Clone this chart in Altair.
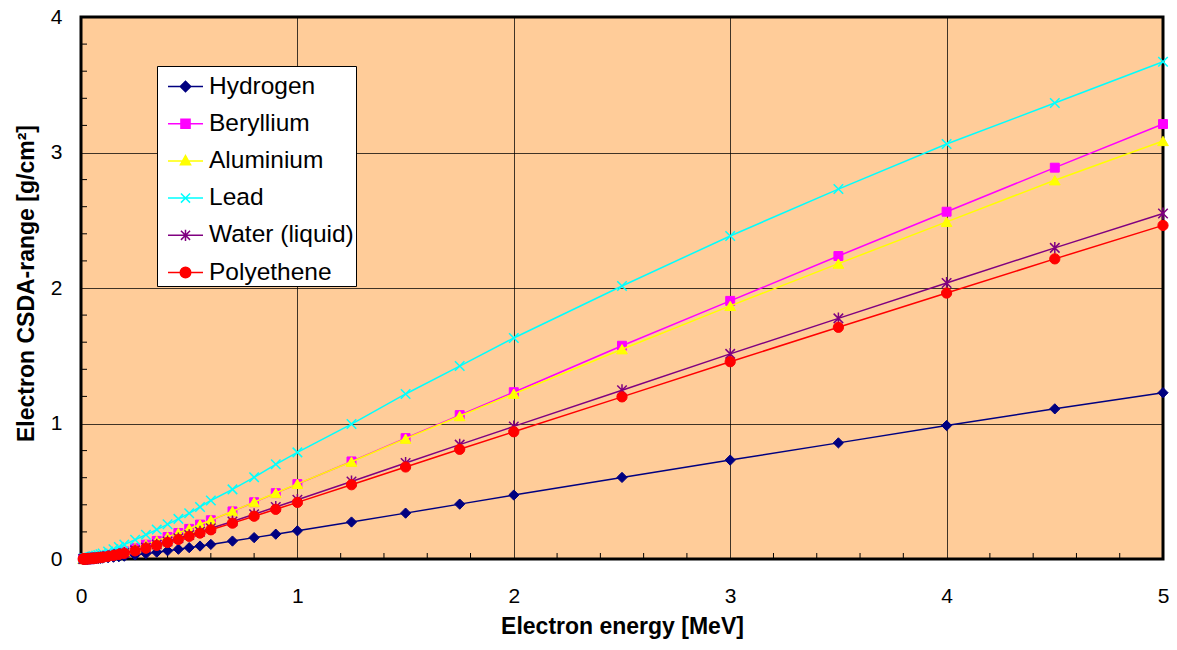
import altair as alt
import pandas as pd

# ---------------- data ----------------
energy = [0.01, 0.0125, 0.015, 0.0175, 0.02, 0.025, 0.03, 0.035, 0.04, 0.045, 0.05,
          0.055, 0.06, 0.07, 0.08, 0.09, 0.1, 0.125, 0.15, 0.175, 0.2, 0.25, 0.3,
          0.35, 0.4, 0.45, 0.5, 0.55, 0.6, 0.7, 0.8, 0.9, 1.0, 1.25, 1.5, 1.75, 2.0,
          2.5, 3.0, 3.5, 4.0, 4.5, 5.0]

hydrogen = [0.000113, 0.000170, 0.000233, 0.000307, 0.000390, 0.000580, 0.000804, 0.00106,
            0.00134, 0.00165, 0.00199, 0.00235, 0.00274, 0.00358, 0.00450, 0.00551, 0.00666,
            0.00984, 0.01318, 0.01697, 0.02107, 0.0299, 0.0397, 0.0502, 0.0609, 0.0722,
            0.0837, 0.0955, 0.1077, 0.1324, 0.1578, 0.1833, 0.2080, 0.2730, 0.3385, 0.4050,
            0.4720, 0.6020, 0.7300, 0.8570, 0.9850, 1.1080, 1.2270]

beryllium = [0.000315, 0.000470, 0.000644, 0.000846, 0.00107, 0.00159, 0.00220, 0.00289,
             0.00365, 0.00449, 0.00540, 0.00638, 0.00741, 0.00966, 0.01214, 0.01483, 0.01789,
             0.0264, 0.0353, 0.0453, 0.0563, 0.0798, 0.1057, 0.1336, 0.1620, 0.1920, 0.2225,
             0.2539, 0.2860, 0.3513, 0.4190, 0.4860, 0.5530, 0.7200, 0.8920, 1.0620, 1.2310,
             1.5740, 1.9050, 2.2360, 2.5630, 2.8880, 3.2100]

aluminium = [0.000320, 0.000478, 0.000655, 0.000860, 0.00109, 0.00162, 0.00224, 0.00294,
             0.00372, 0.00457, 0.00549, 0.00648, 0.00753, 0.00981, 0.01232, 0.01505, 0.01814,
             0.0267, 0.0357, 0.0458, 0.0568, 0.0805, 0.1066, 0.1345, 0.1630, 0.1930, 0.2236,
             0.2550, 0.2870, 0.3525, 0.4200, 0.4875, 0.5546, 0.7180, 0.8880, 1.0550, 1.2200,
             1.5480, 1.8680, 2.1800, 2.4880, 2.7950, 3.0850]

lead = [0.0015, 0.0021, 0.0028, 0.0035, 0.0042, 0.0058, 0.0076, 0.0095, 0.0115, 0.0135,
        0.0157, 0.0179, 0.0202, 0.0251, 0.0302, 0.0355, 0.0410, 0.0560, 0.0720, 0.0890,
        0.1060, 0.1420, 0.1790, 0.2170, 0.2560, 0.2960, 0.3370, 0.3840, 0.4320, 0.5140,
        0.6030, 0.6990, 0.7870, 0.9960, 1.2180, 1.4240, 1.6310, 2.0150, 2.3840, 2.7300,
        3.0630, 3.3650, 3.6700]

water = [0.000252, 0.000376, 0.000515, 0.000677, 0.000858, 0.00127, 0.00176, 0.00231,
         0.00292, 0.00359, 0.00432, 0.00510, 0.00593, 0.00773, 0.00971, 0.01186, 0.01431,
         0.0211, 0.0282, 0.0362, 0.0449, 0.0636, 0.0842, 0.1063, 0.1288, 0.1525, 0.1766,
         0.2013, 0.2267, 0.2769, 0.3303, 0.3835, 0.4367, 0.5723, 0.7085, 0.8440, 0.9785,
         1.2450, 1.5140, 1.7760, 2.0370, 2.2960, 2.5500]

polyethene = [0.000236, 0.000353, 0.000484, 0.000636, 0.000806, 0.00119, 0.00165, 0.00217,
              0.00275, 0.00338, 0.00406, 0.00480, 0.00558, 0.00727, 0.00914, 0.01117, 0.01348,
              0.0199, 0.0266, 0.0342, 0.0424, 0.0601, 0.0797, 0.1007, 0.1221, 0.1447, 0.1677,
              0.1913, 0.2155, 0.2647, 0.3158, 0.3667, 0.4178, 0.5480, 0.6790, 0.8095, 0.9390,
              1.1965, 1.4560, 1.7100, 1.9630, 2.2150, 2.4620]

names = ["Hydrogen", "Beryllium", "Aluminium", "Lead", "Water (liquid)", "Polyethene"]
series = [hydrogen, beryllium, aluminium, lead, water, polyethene]
colors = ["#000080", "#FF00FF", "#FFFF00", "#00FFFF", "#800080", "#FF0000"]

x_ticks = [0, 1, 2, 3, 4, 5]
y_ticks = [0, 1, 2, 3, 4]
x_minor = [0.2, 0.4, 0.6, 0.8, 1.2, 1.4, 1.6, 1.8, 2.2, 2.4, 2.6, 2.8,
           3.2, 3.4, 3.6, 3.8, 4.2, 4.4, 4.6, 4.8]
y_minor = [0.2, 0.4, 0.6, 0.8, 1.2, 1.4, 1.6, 1.8, 2.2, 2.4, 2.6, 2.8,
           3.2, 3.4, 3.6, 3.8]

# ---------------- styling ----------------
marker_shapes = ["diamond", "square", "triangle-up",
                 "M-1,-1L1,1M-1,1L1,-1",
                 "M-1,-1L1,1M-1,1L1,-1M0,-1.25L0,1.25",
                 "circle"]
marker_sizes = [105, 80, 115, 90, 90, 105]
marker_filled = [True, True, True, False, False, True]

legend_shapes = [
    "M-1,0L1,0M-0.3,0L0,-0.3L0.3,0L0,0.3Z",
    "M-1,0L1,0M-0.26,-0.26L0.26,-0.26L0.26,0.26L-0.26,0.26Z",
    "M-1,0L1,0M0,-0.3L0.29,0.22L-0.29,0.22Z",
    "M-1,0L1,0M-0.26,-0.26L0.26,0.26M-0.26,0.26L0.26,-0.26",
    "M-1,0L1,0M-0.26,-0.26L0.26,0.26M-0.26,0.26L0.26,-0.26M0,-0.32L0,0.32",
    "M-1,0L1,0M-0.3,0A0.3,0.3,0,1,1,0.3,0A0.3,0.3,0,1,1,-0.3,0Z",
]

W, H = 1082, 542
FONT = "Liberation Sans"

xscale = alt.Scale(domain=[0, 5], nice=False, zero=False)
yscale = alt.Scale(domain=[0, 4], nice=False, zero=False)

x_axis = alt.Axis(
    values=x_ticks, format="d", title="Electron energy [MeV]",
    titleFont=FONT, titleFontSize=23, titleFontWeight="bold", titleColor="black",
    titleX=W / 2, titleY=74, titleBaseline="alphabetic", titleAlign="center",
    labelFont=FONT, labelFontSize=21, labelColor="black", labelPadding=26,
    labelFlush=False, labelOverlap=False, ticks=False, tickSize=0, domain=False,
    grid=True, gridColor="#000000", gridOpacity=0.75, gridWidth=1,
)
y_axis = alt.Axis(
    values=y_ticks, format="d", title="Electron CSDA-range [g/cm²]",
    titleFont=FONT, titleFontSize=23, titleFontWeight="bold", titleColor="black",
    titleX=-48, titleY=266, titleAngle=270, titleBaseline="alphabetic", titleAlign="center",
    labelFont=FONT, labelFontSize=21, labelColor="black", labelPadding=19,
    labelFlush=False, labelOverlap=False, ticks=False, tickSize=0, domain=False,
    grid=True, gridColor="#000000", gridOpacity=0.75, gridWidth=1,
)

X = alt.X("E:Q", scale=xscale, axis=x_axis)
Y = alt.Y("R:Q", scale=yscale, axis=y_axis)

layers = []

# minor tick marks (inside the plot frame)
layers.append(
    alt.Chart(pd.DataFrame({"E": x_minor})).mark_rule(color="black", strokeWidth=1).encode(
        x=X, y=alt.value(H), y2=alt.value(H - 6),
    )
)
layers.append(
    alt.Chart(pd.DataFrame({"R": y_minor})).mark_rule(color="black", strokeWidth=1).encode(
        y=Y, x=alt.value(0), x2=alt.value(6),
    )
)

for i, name in enumerate(names):
    d = pd.DataFrame({"E": energy, "R": series[i]})
    base = alt.Chart(d).encode(x=X, y=Y)
    layers.append(base.mark_line(color=colors[i], strokeWidth=1.5))
    if marker_filled[i]:
        pts = base.mark_point(shape=marker_shapes[i], filled=True, color=colors[i],
                              stroke=colors[i], strokeWidth=1, size=marker_sizes[i], opacity=1)
    else:
        pts = base.mark_point(shape=marker_shapes[i], filled=False, color=colors[i],
                              strokeWidth=1.5, size=marker_sizes[i], opacity=1)
    layers.append(pts)

# legend (native Vega legend driven by the series names)
leg = alt.Legend(
    title=None, orient="none", legendX=76, legendY=49,
    fillColor="white", strokeColor="black", padding=2,
    symbolSize=1225, symbolStrokeWidth=1.5, symbolOffset=8,
    labelFont=FONT, labelFontSize=24.5, labelColor="black", labelOffset=5,
    labelLimit=300, rowPadding=7.2,
)
legend_df = pd.DataFrame({"name": names})
dummy = alt.Chart(legend_df).mark_point(filled=True, clip=True, opacity=1).encode(
    x=alt.value(-60), y=alt.value(-60),
    shape=alt.Shape("name:N", scale=alt.Scale(domain=names, range=legend_shapes), legend=leg),
    fill=alt.Fill("name:N", scale=alt.Scale(domain=names, range=colors), legend=leg),
    stroke=alt.Stroke("name:N", scale=alt.Scale(domain=names, range=colors), legend=leg),
)
layers.append(dummy)

chart = (
    alt.layer(*layers)
    .properties(
        width=W, height=H,
        padding={"left": 73, "top": 9, "right": 6, "bottom": 80},
        autosize=alt.AutoSizeParams(type="none"),
        background="white",
    )
    .configure(font=FONT)
    .configure_view(fill="#FFCC99", stroke="black", strokeWidth=3)
    .configure_legend(strokeWidth=1)
)

chart.save("out.html", embed_options={"renderer": "svg", "actions": False})
